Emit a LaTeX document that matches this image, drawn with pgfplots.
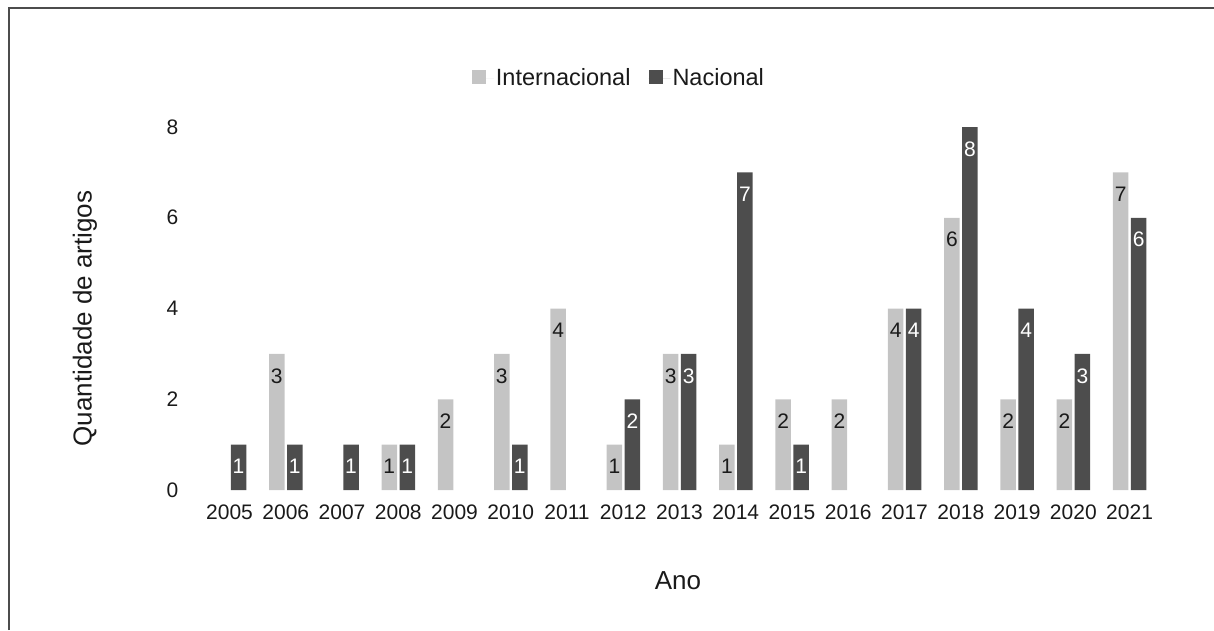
\documentclass[border=0pt]{standalone}
\usepackage{pgfplots}
\pgfplotsset{compat=1.18}
\usepackage{fontspec}
\setmainfont{Liberation Sans}
\definecolor{intl}{HTML}{C4C4C4}
\definecolor{nac}{HTML}{4D4D4D}
\definecolor{txt}{HTML}{1A1A1A}
\begin{document}
\begin{tikzpicture}
\useasboundingbox (0,0) rectangle (1214pt,630pt);
\draw[line width=1.5pt, color=black!70] (9pt,0pt) -- (9pt,622pt) -- (1214pt,622pt);
\begin{axis}[
  at={(201.4pt,140pt)}, anchor=south west,
  scale only axis, width=956.4pt, height=363pt,
  ybar=2.5pt, bar width=15.5pt,
  xmin=2004.5, xmax=2021.5, ymin=0, ymax=8,
  xtick={2005,...,2021}, ytick={0,2,4,6,8},
  axis line style={draw=none}, major tick length=0pt,
  /pgf/number format/1000 sep={}, /pgf/number format/assume math mode=true,
  tick label style={font=\fontsize{21}{25}\selectfont, text=txt},
  xticklabel style={inner sep=0pt, anchor=north, yshift=-15pt},
  yticklabel style={inner sep=0pt, anchor=east, xshift=-23pt},
  xlabel={Ano}, ylabel={Quantidade de artigos},
  label style={font=\fontsize{26}{30}\selectfont, text=txt},
  xlabel style={at={(axis description cs:0.4983,-0.2507)}, anchor=center},
  ylabel style={at={(axis description cs:-0.1217,0.4725)}, anchor=center},
  nodes near coords,
  nodes near coords style={font=\fontsize{21}{25}\selectfont, anchor=center, yshift=-22pt},
  legend style={at={(axis description cs:0.4366,1.135)}, anchor=center, draw=none,
    font=\fontsize{23.5}{28}\selectfont, text=txt, legend columns=2,
    /tikz/every even column/.append style={column sep=16pt}},
  legend image code/.code={\fill[#1] (0pt,-6pt) rectangle (14pt,8pt); \path (0pt,0pt) -- (22pt,0pt);},
]
\addplot[fill=intl, draw=none, every node near coord/.append style={text=txt}] coordinates {
(2006,3) (2008,1) (2009,2) (2010,3) (2011,4) (2012,1) (2013,3) (2014,1)
(2015,2) (2016,2) (2017,4) (2018,6) (2019,2) (2020,2) (2021,7)};
\addlegendentry{Internacional}
\addplot[fill=nac, draw=none, every node near coord/.append style={text=white}] coordinates {
(2005,1) (2006,1) (2007,1) (2008,1) (2010,1) (2012,2) (2013,3) (2014,7)
(2015,1) (2017,4) (2018,8) (2019,4) (2020,3) (2021,6)};
\addlegendentry{Nacional}
\end{axis}
\end{tikzpicture}
\end{document}
